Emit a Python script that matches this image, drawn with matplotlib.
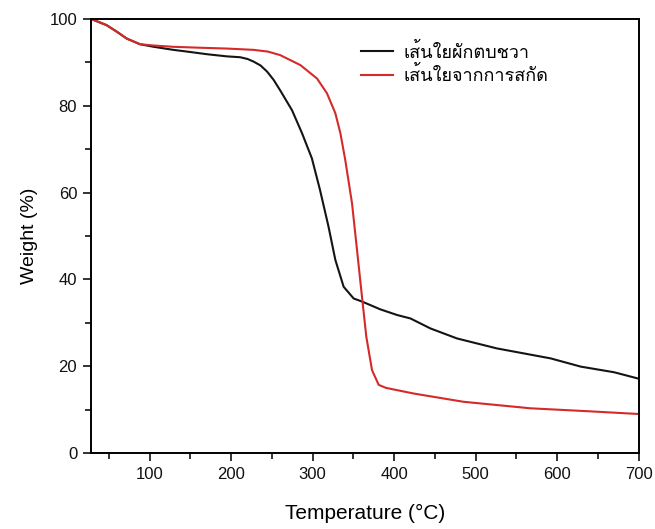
import numpy as np
import matplotlib
matplotlib.use('Agg')
import matplotlib.pyplot as plt
from matplotlib import font_manager
from matplotlib.ft2font import FT2Font
from matplotlib.ticker import MultipleLocator

# TGA curves
temp_raw = [31, 47, 59.5, 71.8, 88, 105, 129, 150, 170, 194.6, 211, 220, 227.4, 236, 244,
            252, 260, 274.6, 286.9, 299, 309, 319.5, 327.8, 338, 350.3, 360.5, 383, 403.5,
            420, 444.5, 477, 526, 592, 629, 670, 698.5]
weight_raw = [99.8, 98.6, 97.1, 95.5, 94.2, 93.6, 92.9, 92.4, 91.9, 91.4, 91.2, 90.8, 90.2,
              89.3, 87.9, 86.0, 83.6, 79.0, 73.7, 67.9, 60.6, 52.1, 44.5, 38.3, 35.6, 34.9,
              33.1, 31.8, 31.0, 28.7, 26.4, 24.1, 21.8, 19.9, 18.6, 17.2]

temp_ext = [31, 47, 59.5, 71.8, 88, 105, 129, 160, 194.6, 227.4, 245, 260, 284.8, 305.3,
            317.5, 327.8, 334, 340, 348.3, 354.4, 360.5, 365.8, 372.8, 381, 390, 424, 485,
            567, 640, 698.5]
weight_ext = [99.8, 98.6, 97.1, 95.5, 94.2, 93.9, 93.6, 93.4, 93.2, 92.9, 92.5, 91.7, 89.4,
              86.3, 82.9, 78.3, 73.7, 67.5, 57.5, 46.8, 36.0, 26.8, 19.1, 15.7, 15.0, 13.7,
              11.8, 10.3, 9.6, 9.0]

labels = ['เส้นใยผักตบชวา', 'เส้นใยจากการสกัด']


def thai_font():
    for f in font_manager.fontManager.ttflist:
        try:
            if ord('ส') in FT2Font(f.fname).get_charmap():
                return f.name
        except Exception:
            pass
    return 'DejaVu Sans'


plt.rcParams['font.family'] = ['Liberation Sans', 'DejaVu Sans']
thai = thai_font()

fig = plt.figure(figsize=(6.55, 5.29), dpi=100)
ax = fig.add_axes([0.139, 0.1437, 0.836, 0.8203])

ax.plot(temp_raw, weight_raw, color='#141414', lw=1.5, label=labels[0])
ax.plot(temp_ext, weight_ext, color='#d42a2a', lw=1.5, label=labels[1])

ax.set_xlim(28, 700)
ax.set_ylim(0, 100)
ax.xaxis.set_major_locator(MultipleLocator(100))
ax.xaxis.set_minor_locator(MultipleLocator(50))
ax.yaxis.set_major_locator(MultipleLocator(20))
ax.yaxis.set_minor_locator(MultipleLocator(10))
ax.tick_params(which='both', direction='out', top=False, right=False, width=1.2,
               labelsize=12, colors='#111111')
ax.tick_params(which='major', length=6, pad=4)
ax.tick_params(which='minor', length=4)
for s in ax.spines.values():
    s.set_linewidth(1.4)

ax.set_xlabel('Temperature (°C)', fontsize=15, labelpad=16)
ax.set_ylabel('Weight (%)', fontsize=14, labelpad=8)

leg = ax.legend(loc='upper left', bbox_to_anchor=(0.463, 0.983), frameon=False,
                handlelength=1.8, handletextpad=0.55, labelspacing=0.25,
                prop={'family': [thai, 'DejaVu Sans'], 'size': 13})

fig.savefig('out.png', dpi=100)
